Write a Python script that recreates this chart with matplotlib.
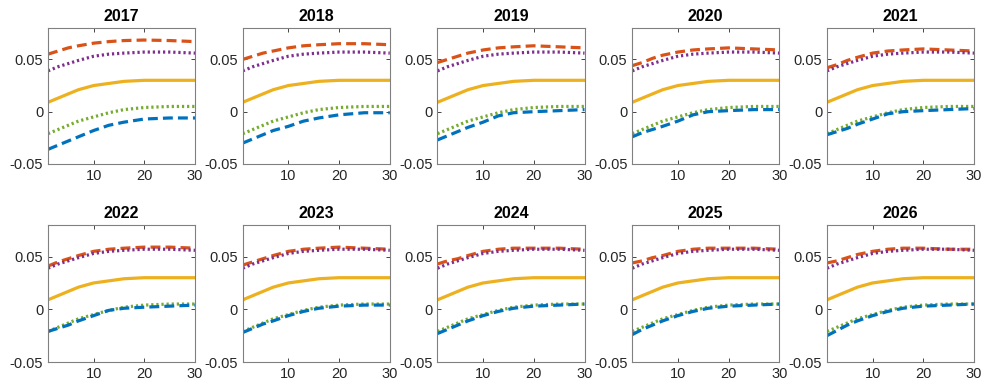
import matplotlib.pyplot as plt

horizon = [1, 3, 5, 7, 10, 13, 16, 20, 25, 30]
years = ['2017', '2018', '2019', '2020', '2021',
         '2022', '2023', '2024', '2025', '2026']

# curves that look the same in every panel
central = [0.009, 0.013, 0.017, 0.021, 0.025, 0.027, 0.029, 0.030, 0.030, 0.030]
upper_dot = [0.039, 0.043, 0.046, 0.049, 0.053, 0.055, 0.056, 0.057, 0.057, 0.056]
lower_dot = [-0.021, -0.017, -0.013, -0.009, -0.005, -0.001, 0.002, 0.004, 0.005, 0.005]

# year-specific bands
upper_dash = {
    '2017': [0.055, 0.058, 0.061, 0.063, 0.0655, 0.067, 0.068, 0.0685, 0.068, 0.067],
    '2018': [0.050, 0.053, 0.056, 0.058, 0.061, 0.063, 0.064, 0.065, 0.065, 0.064],
    '2019': [0.047, 0.050, 0.053, 0.056, 0.059, 0.061, 0.062, 0.063, 0.062, 0.061],
    '2020': [0.044, 0.047, 0.051, 0.054, 0.057, 0.059, 0.060, 0.061, 0.060, 0.059],
    '2021': [0.042, 0.045, 0.049, 0.052, 0.056, 0.058, 0.059, 0.060, 0.059, 0.058],
    '2022': [0.041, 0.045, 0.048, 0.051, 0.055, 0.057, 0.058, 0.059, 0.059, 0.058],
    '2023': [0.042, 0.045, 0.048, 0.051, 0.055, 0.057, 0.058, 0.059, 0.058, 0.057],
    '2024': [0.043, 0.046, 0.048, 0.051, 0.055, 0.057, 0.058, 0.058, 0.058, 0.057],
    '2025': [0.044, 0.046, 0.049, 0.051, 0.055, 0.057, 0.058, 0.058, 0.058, 0.057],
    '2026': [0.044, 0.046, 0.049, 0.052, 0.055, 0.057, 0.058, 0.058, 0.057, 0.057],
}
lower_dash = {
    '2017': [-0.036, -0.032, -0.028, -0.024, -0.018, -0.013, -0.010, -0.007, -0.006, -0.006],
    '2018': [-0.030, -0.026, -0.022, -0.018, -0.014, -0.009, -0.006, -0.003, -0.001, -0.001],
    '2019': [-0.027, -0.023, -0.019, -0.015, -0.010, -0.004, -0.001, 0.000, 0.001, 0.002],
    '2020': [-0.024, -0.020, -0.017, -0.014, -0.009, -0.003, 0.000, 0.001, 0.002, 0.002],
    '2021': [-0.022, -0.019, -0.016, -0.012, -0.007, -0.002, 0.000, 0.001, 0.002, 0.003],
    '2022': [-0.021, -0.018, -0.015, -0.011, -0.006, -0.001, 0.001, 0.002, 0.003, 0.004],
    '2023': [-0.022, -0.018, -0.014, -0.011, -0.006, -0.002, 0.001, 0.003, 0.004, 0.004],
    '2024': [-0.023, -0.019, -0.015, -0.011, -0.006, -0.002, 0.001, 0.003, 0.004, 0.005],
    '2025': [-0.024, -0.019, -0.015, -0.011, -0.006, -0.002, 0.001, 0.003, 0.004, 0.005],
    '2026': [-0.025, -0.020, -0.015, -0.011, -0.006, -0.002, 0.001, 0.003, 0.004, 0.005],
}

fig = plt.figure(figsize=(9.87, 3.86), dpi=100)
plt.rcParams['font.family'] = ['Liberation Sans', 'DejaVu Sans']

W, H = 987, 386
lefts = [48 + 194.75 * i for i in range(5)]
rows = [(28, 164), (225, 362)]
lw = 2.3
dash = (3.1, 1.6)
dot = (0.7, 0.9)

for k, yr in enumerate(years):
    r, c = divmod(k, 5)
    top, bot = rows[r]
    ax = fig.add_axes([lefts[c] / W, 1 - bot / H, 147 / W, (bot - top) / H])

    ax.plot(horizon, upper_dash[yr], color='#D95319', lw=lw, dashes=dash)
    ax.plot(horizon, upper_dot, color='#7E2F8E', lw=lw, dashes=dot)
    ax.plot(horizon, central, color='#EDB120', lw=lw)
    ax.plot(horizon, lower_dot, color='#77AC30', lw=lw, dashes=dot)
    ax.plot(horizon, lower_dash[yr], color='#0072BD', lw=lw, dashes=dash)

    ax.set_xlim(1, 30)
    ax.set_ylim(-0.05, 0.08)
    ax.set_xticks([10, 20, 30])
    ax.set_yticks([-0.05, 0, 0.05])
    ax.set_yticklabels(['-0.05', '0', '0.05'])
    ax.tick_params(direction='in', top=True, right=True, length=3,
                   labelsize=10.5, colors='#262626', width=0.6)
    for s in ax.spines.values():
        s.set_color('#808080')
        s.set_linewidth(0.8)
    ax.set_title(yr, fontsize=11.5, fontweight='bold', pad=5)

fig.savefig('out.png', dpi=100)
